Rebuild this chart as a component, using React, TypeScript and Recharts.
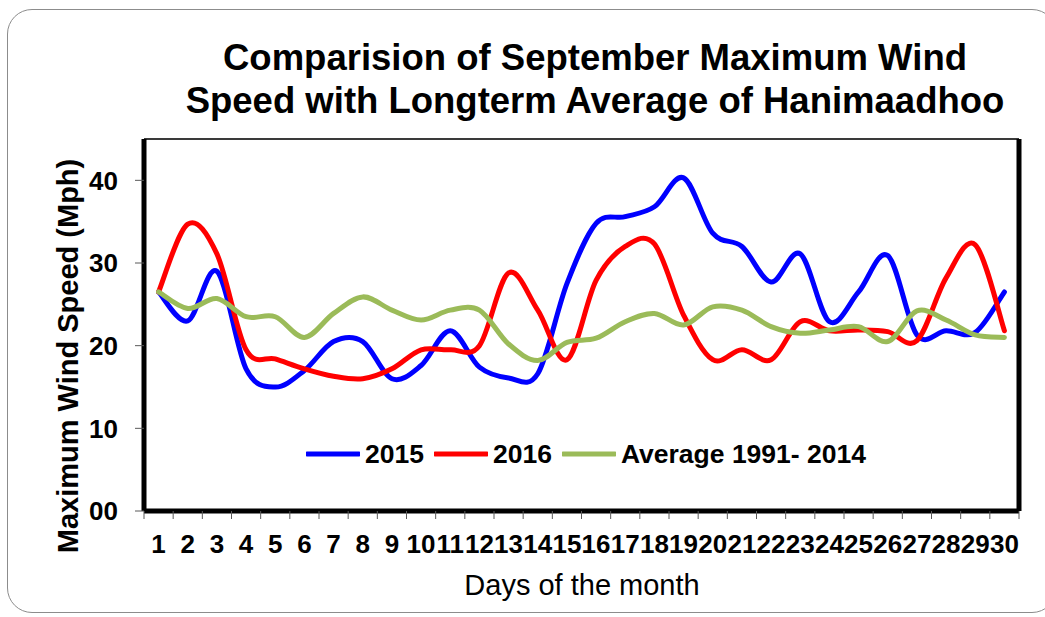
import React from "react";
import { LineChart, Line, XAxis, YAxis, Legend } from "recharts";

const FONT = '"Liberation Sans", Arial, Helvetica, sans-serif';

const days = [1, 2, 3, 4, 5, 6, 7, 8, 9, 10, 11, 12, 13, 14, 15, 16, 17, 18, 19, 20, 21, 22, 23, 24, 25, 26, 27, 28, 29, 30];
const dayLabels = ["1", "2", "3", "4", "5", "6", "7", "8", "9", "10", "11", "12", "13", "14", "15", "16", "17", "18", "19", "20", "21", "22", "23", "24", "25", "26", "27", "28", "29", "30"];

const speed2015 = [26.5, 23.0, 29.0, 17.2, 15.0, 17.0, 20.5, 20.5, 16.0, 17.6, 21.8, 17.4, 16.1, 16.6, 27.5, 34.8, 35.6, 36.8, 40.3, 33.6, 32.0, 27.7, 31.1, 22.9, 26.5, 30.9, 21.3, 21.8, 21.6, 26.5];
const speed2016 = [26.5, 34.7, 31.1, 19.5, 18.4, 17.2, 16.3, 16.0, 17.2, 19.5, 19.5, 20.0, 28.8, 24.3, 18.3, 27.9, 32.0, 32.3, 23.7, 18.3, 19.5, 18.3, 22.9, 21.8, 21.9, 21.7, 20.6, 28.2, 32.2, 21.8];
const average = [26.5, 24.5, 25.7, 23.5, 23.5, 21.0, 23.9, 25.9, 24.3, 23.1, 24.3, 24.3, 20.2, 18.2, 20.4, 20.9, 22.9, 23.9, 22.5, 24.7, 24.3, 22.3, 21.5, 21.9, 22.3, 20.5, 24.2, 23.1, 21.3, 21.0];

const yTicks = [0, 10, 20, 30, 40];
const yTickLabels = ["00", "10", "20", "30", "40"];

const seriesNames = ["2015", "2016", "Average 1991- 2014"];
const seriesColors = ["#0000FF", "#FF0000", "#9BBB59"];

const titleLines = ["Comparision of September Maximum Wind", "Speed with Longterm Average of Hanimaadhoo"];
const yAxisTitle = "Maximum Wind Speed (Mph)";
const xAxisTitle = "Days of the month";

const data = days.map((d, i) => ({
  day: d,
  s2015: speed2015[i],
  s2016: speed2016[i],
  avg: average[i],
}));

// label ticks at day centres, tick marks at day boundaries
const xTicks: number[] = [];
days.forEach((d) => {
  xTicks.push(d - 0.5);
  xTicks.push(d);
});
xTicks.push(days[days.length - 1] + 0.5);

// Excel-like smoothed line (uniform Catmull-Rom as cubic Bezier)
function excelSmooth(context: any) {
  let pts: number[][] = [];
  return {
    areaStart() {},
    areaEnd() {},
    lineStart() {
      pts = [];
    },
    lineEnd() {
      const n = pts.length;
      if (!n) return;
      context.moveTo(pts[0][0], pts[0][1]);
      for (let i = 0; i < n - 1; i++) {
        const p0 = pts[Math.max(0, i - 1)];
        const p1 = pts[i];
        const p2 = pts[i + 1];
        const p3 = pts[Math.min(n - 1, i + 2)];
        context.bezierCurveTo(
          p1[0] + (p2[0] - p0[0]) / 6,
          p1[1] + (p2[1] - p0[1]) / 6,
          p2[0] - (p3[0] - p1[0]) / 6,
          p2[1] - (p3[1] - p1[1]) / 6,
          p2[0],
          p2[1]
        );
      }
    },
    point(x: number, y: number) {
      pts.push([+x, +y]);
    },
  };
}

const TICK_OFFSET = 24;
const XTick = (props: any) => {
  const { x, y, payload } = props;
  const v = payload.value;
  if (Number.isInteger(v)) {
    return (
      <text x={x} y={y} dy="0.71em" textAnchor="middle" fill="#000" fontSize={26} fontWeight="bold" fontFamily={FONT}>
        {dayLabels[days.indexOf(v)]}
      </text>
    );
  }
  return <line x1={x} x2={x} y1={y - TICK_OFFSET} y2={y - TICK_OFFSET + 8} stroke="#595959" strokeWidth={1} />;
};

const renderLegend = (props: any) => (
  <div style={{ display: "flex", alignItems: "center", fontFamily: FONT, fontWeight: "bold", fontSize: 26.5, lineHeight: "30px", whiteSpace: "nowrap" }}>
    {(props.payload || []).map((e: any, i: number) => (
      <div key={i} style={{ display: "flex", alignItems: "center", marginRight: 10 }}>
        <svg width={54} height={10} style={{ display: "block" }}>
          <line x1={1} x2={53} y1={5} y2={5} stroke={e.color} strokeWidth={5} strokeLinecap="round" />
        </svg>
        <span style={{ marginLeft: 5, color: "#000" }}>{e.value}</span>
      </div>
    ))}
  </div>
);

export default function App() {
  return (
    <div style={{ position: "absolute", left: 0, top: 0, width: 1045, height: 617, overflow: "hidden", background: "#fff" }}>
      <div
        style={{
          position: "absolute",
          left: 7,
          top: 9,
          width: 1050,
          height: 604,
          border: "1.5px solid #8c8c8c",
          borderRadius: 25,
          boxSizing: "border-box",
        }}
      />
      <div
        style={{
          position: "absolute",
          left: 95,
          top: 36,
          width: 1000,
          textAlign: "center",
          fontFamily: FONT,
          fontWeight: "bold",
          fontSize: 36.5,
          lineHeight: "43px",
          color: "#000",
        }}
      >
        {titleLines.map((t, i) => (
          <div key={i}>{t}</div>
        ))}
      </div>
      <div
        style={{
          position: "absolute",
          left: 68,
          top: 356,
          transform: "translate(-50%, -50%) rotate(-90deg)",
          fontFamily: FONT,
          fontWeight: "bold",
          fontSize: 29,
          lineHeight: 1,
          whiteSpace: "nowrap",
          color: "#000",
        }}
      >
        {yAxisTitle}
      </div>
      <div
        style={{
          position: "absolute",
          left: 582,
          top: 571,
          transform: "translateX(-50%)",
          fontFamily: FONT,
          fontSize: 29,
          lineHeight: 1,
          whiteSpace: "nowrap",
          color: "#000",
        }}
      >
        {xAxisTitle}
      </div>
      <div style={{ position: "absolute", left: 0, top: 0 }}>
        <LineChart width={1045} height={617} data={data} margin={{ top: 138, right: 25, bottom: 46, left: 0 }}>
          <XAxis
            xAxisId="main"
            dataKey="day"
            type="number"
            domain={[0.5, 30.5]}
            ticks={xTicks}
            interval={0}
            allowDecimals
            tickLine={false}
            tickSize={8}
            tickMargin={16}
            tick={<XTick />}
            axisLine={{ stroke: "#000", strokeWidth: 5 }}
            height={60}
          />
          <XAxis
            xAxisId="top"
            orientation="top"
            dataKey="day"
            type="number"
            domain={[0.5, 30.5]}
            tick={false}
            tickLine={false}
            axisLine={{ stroke: "#3a3a3a", strokeWidth: 2 }}
            height={1}
          />
          <YAxis
            yAxisId="left"
            type="number"
            domain={[0, 45]}
            ticks={yTicks}
            interval={0}
            width={144}
            tickSize={9}
            tickMargin={17}
            tickLine={{ stroke: "#595959", strokeWidth: 1 }}
            axisLine={{ stroke: "#000", strokeWidth: 5 }}
            tick={{ fill: "#000", fontSize: 26, fontWeight: "bold", fontFamily: FONT }}
            tickFormatter={(v: number) => yTickLabels[yTicks.indexOf(v)]}
          />
          <YAxis
            yAxisId="right"
            orientation="right"
            type="number"
            domain={[0, 45]}
            width={1}
            tick={false}
            tickLine={false}
            axisLine={{ stroke: "#000", strokeWidth: 5 }}
          />
          <Legend
            layout="horizontal"
            align="center"
            verticalAlign="middle"
            content={renderLegend}
            wrapperStyle={{ left: 306, top: 439, width: "auto", height: "auto" }}
          />
          <Line
            xAxisId="main"
            yAxisId="left"
            dataKey="s2015"
            name={seriesNames[0]}
            stroke={seriesColors[0]}
            strokeWidth={5}
            type={excelSmooth as any}
            dot={false}
            activeDot={false}
            strokeLinejoin="round"
            strokeLinecap="round"
            isAnimationActive={false}
          />
          <Line
            xAxisId="main"
            yAxisId="left"
            dataKey="s2016"
            name={seriesNames[1]}
            stroke={seriesColors[1]}
            strokeWidth={5}
            type={excelSmooth as any}
            dot={false}
            activeDot={false}
            strokeLinejoin="round"
            strokeLinecap="round"
            isAnimationActive={false}
          />
          <Line
            xAxisId="main"
            yAxisId="left"
            dataKey="avg"
            name={seriesNames[2]}
            stroke={seriesColors[2]}
            strokeWidth={5}
            type={excelSmooth as any}
            dot={false}
            activeDot={false}
            strokeLinejoin="round"
            strokeLinecap="round"
            isAnimationActive={false}
          />
        </LineChart>
      </div>
    </div>
  );
}
